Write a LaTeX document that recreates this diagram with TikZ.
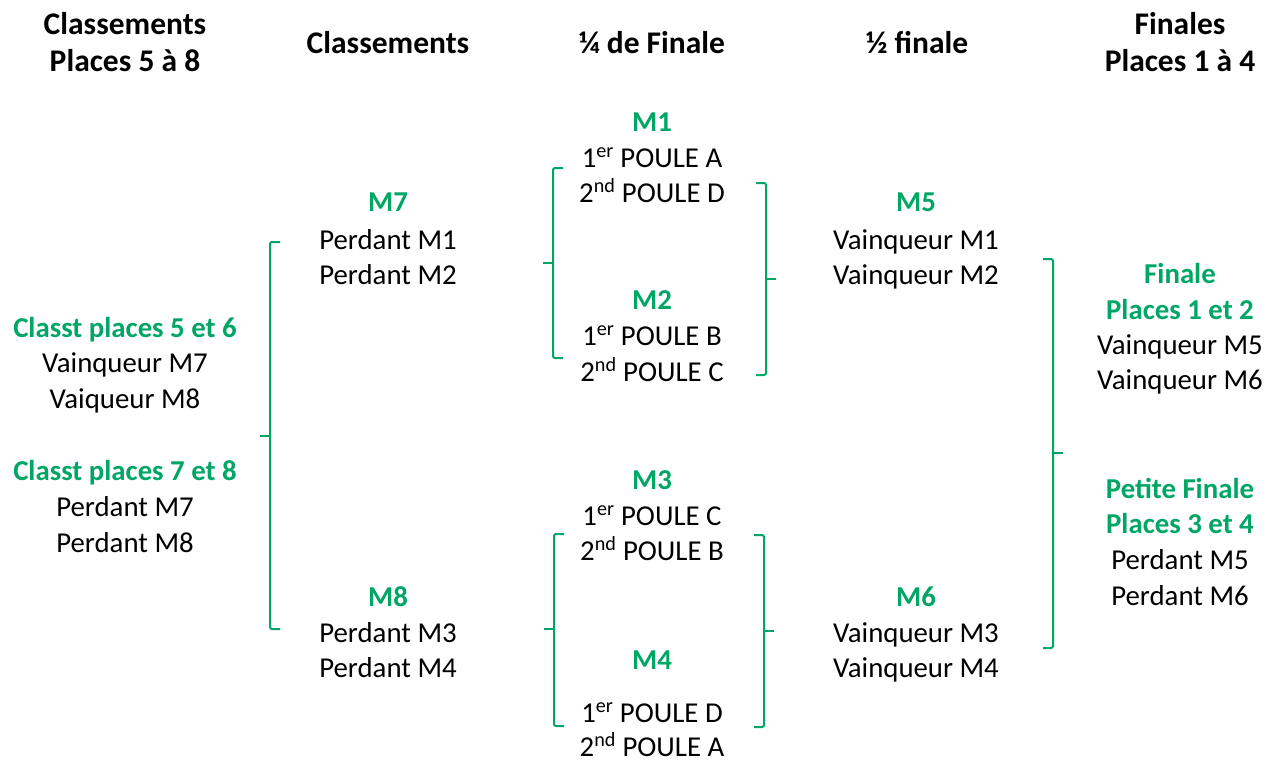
\documentclass[tikz,border=0pt]{standalone}
\usepackage{fontspec}
\setmainfont{Carlito}
\definecolor{vert}{RGB}{0,166,100}
\tikzset{
  lbl/.style={font=\fontsize{28.8}{32}\selectfont, inner sep=0pt, anchor=base},
  ttl/.style={lbl, font=\fontsize{28.8}{32}\selectfont\bfseries, text=vert},
  hdr/.style={lbl, font=\fontsize{31.5}{36}\selectfont\bfseries},
  brk/.style={vert, line width=2pt, rounded corners=2pt}
}
% brackets: x, top, bottom, middle
\newcommand{\brkleft}[4]{%
  \draw[brk] (#1+10,#2) -- (#1,#2) -- (#1,#3) -- (#1+10,#3);
  \draw[brk] (#1,#4) -- (#1-10,#4);}
\newcommand{\brkright}[4]{%
  \draw[brk] (#1-10,#2) -- (#1,#2) -- (#1,#3) -- (#1-10,#3);
  \draw[brk] (#1,#4) -- (#1+10,#4);}
\begin{document}
\begin{tikzpicture}[x=1pt, y=-1pt]
    \useasboundingbox (0,0) rectangle (1275,760);

    % Headers
    \node[hdr] (h1a) at (125,35) {Classements};
    \node[hdr] (h1b) at (125,72) {Places 5 à 8};
    \node[hdr] (h2) at (388,54) {Classements};
    \node[hdr] (h3) at (652,54) {¼ de Finale};
    \node[hdr] (h4) at (917,54) {½ finale};
    \node[hdr] (h5a) at (1180,35) {Finales};
    \node[hdr] (h5b) at (1180,72) {Places 1 à 4};

    % Classements places 5 a 8
    \node[ttl] (c56) at (125,337) {Classt places 5 et 6};
    \node[lbl] (c56a) at (125,372) {Vainqueur M7};
    \node[lbl] (c56b) at (125,408) {Vaiqueur M8};
    \node[ttl] (c78) at (125,480) {Classt places 7 et 8};
    \node[lbl] (c78a) at (125,516) {Perdant M7};
    \node[lbl] (c78b) at (125,552) {Perdant M8};

    % Classements
    \node[ttl] (m7) at (388,211) {M7};
    \node[lbl] (m7a) at (388,249) {Perdant M1};
    \node[lbl] (m7b) at (388,284) {Perdant M2};
    \node[ttl] (m8) at (388,606) {M8};
    \node[lbl] (m8a) at (388,642) {Perdant M3};
    \node[lbl] (m8b) at (388,677) {Perdant M4};

    % Quarts de finale
    \node[ttl] (m1) at (652,131) {M1};
    \node[lbl] (m1a) at (652,167) {1\textsuperscript{er} POULE A};
    \node[lbl] (m1b) at (652,202) {2\textsuperscript{nd} POULE D};
    \node[ttl] (m2) at (652,309) {M2};
    \node[lbl] (m2a) at (652,345) {1\textsuperscript{er} POULE B};
    \node[lbl] (m2b) at (652,381) {2\textsuperscript{nd} POULE C};
    \node[ttl] (m3) at (652,489) {M3};
    \node[lbl] (m3a) at (652,525) {1\textsuperscript{er} POULE C};
    \node[lbl] (m3b) at (652,560) {2\textsuperscript{nd} POULE B};
    \node[ttl] (m4) at (652,669) {M4};
    \node[lbl] (m4a) at (652,722) {1\textsuperscript{er} POULE D};
    \node[lbl] (m4b) at (652,756) {2\textsuperscript{nd} POULE A};

    % Demi-finales
    \node[ttl] (m5) at (916,211) {M5};
    \node[lbl] (m5a) at (916,249) {Vainqueur M1};
    \node[lbl] (m5b) at (916,284) {Vainqueur M2};
    \node[ttl] (m6) at (916,606) {M6};
    \node[lbl] (m6a) at (916,642) {Vainqueur M3};
    \node[lbl] (m6b) at (916,677) {Vainqueur M4};

    % Finales
    \node[ttl] (f1) at (1180,283) {Finale};
    \node[ttl] (f1b) at (1180,319) {Places 1 et 2};
    \node[lbl] (f1c) at (1180,354) {Vainqueur M5};
    \node[lbl] (f1d) at (1180,389) {Vainqueur M6};
    \node[ttl] (f3) at (1180,498) {Petite Finale};
    \node[ttl] (f3b) at (1180,533) {Places 3 et 4};
    \node[lbl] (f3c) at (1180,569) {Perdant M5};
    \node[lbl] (f3d) at (1180,605) {Perdant M6};

    % Accolades
    \brkleft{270}{242}{629}{436}
    \brkleft{553}{168}{358}{263}
    \brkright{766}{183}{375}{279}
    \brkleft{554}{534}{726}{629}
    \brkright{764}{535}{727}{631}
    \brkright{1053}{259}{648}{453}
\end{tikzpicture}
\end{document}
